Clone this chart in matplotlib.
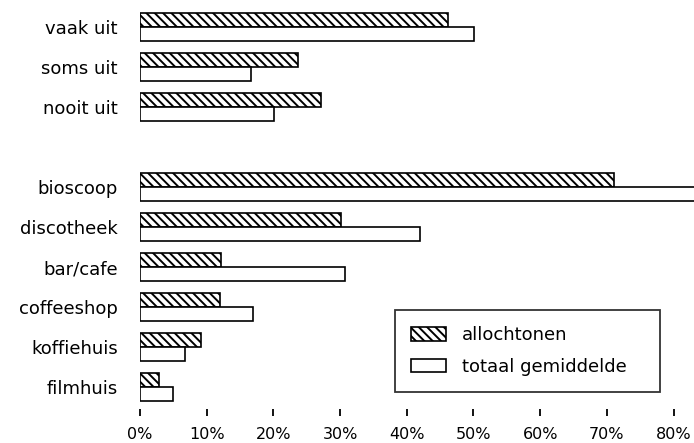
import matplotlib
matplotlib.use("Agg")
import matplotlib.pyplot as plt
import numpy as np

categories = ["vaak uit", "soms uit", "nooit uit", "", "bioscoop", "discotheek",
              "bar/cafe", "coffeeshop", "koffiehuis", "filmhuis"]
allochtonen = [46.2, 23.7, 27.1, None, 71.1, 30.1, 12.2, 12.0, 9.1, 2.9]
totaal = [50.1, 16.6, 20.1, None, 85.0, 42.0, 30.7, 17.0, 6.7, 4.9]
xticks = [0, 10, 20, 30, 40, 50, 60, 70, 80]
xticklabels = ["0%", "10%", "20%", "30%", "40%", "50%", "60%", "70%", "80%"]
series_names = ["allochtonen", "totaal gemiddelde"]

plt.rcParams['font.family'] = ['DejaVu Sans']
plt.rcParams['hatch.linewidth'] = 1.4

W, H = 694, 443
fig = plt.figure(figsize=(W / 100, H / 100), dpi=100)
ax = fig.add_axes([140 / W, (H - 409) / H, 1 - 140 / W, 409 / H])

pos = np.arange(len(categories))
mask = [v is not None for v in allochtonen]
y_idx = pos[mask]
a_vals = [v for v in allochtonen if v is not None]
t_vals = [v for v in totaal if v is not None]
h = 0.35
ax.barh(y_idx - h / 2, a_vals, height=h, facecolor='white', edgecolor='black',
        linewidth=1.2, hatch='\\\\\\\\', label=series_names[0])
ax.barh(y_idx + h / 2, t_vals, height=h, facecolor='white', edgecolor='black',
        linewidth=1.2, label=series_names[1])

ax.set_xlim(0, (W - 140) / 6.67)
ax.set_ylim(9.55, -0.675)
for s in ax.spines.values():
    s.set_visible(False)
ax.set_yticks(y_idx)
ax.set_yticklabels([c for c, m in zip(categories, mask) if m], fontsize=13)
ax.tick_params(axis='y', length=0, pad=16)
ax.set_xticks(xticks)
ax.set_xticklabels(xticklabels, fontsize=11.5)
ax.tick_params(axis='x', length=5, width=1.3, pad=8, direction='out')

aw = W - 140
leg = ax.legend(loc='lower left',
                bbox_to_anchor=((395 - 140) / aw, (409 - 392) / 409, (660 - 395) / aw, 82 / 409),
                mode='expand',
                frameon=True, fancybox=False, edgecolor='black', fontsize=13,
                handlelength=1.9, handleheight=0.8, borderpad=0.9, labelspacing=0.75,
                handletextpad=0.9, borderaxespad=0)
leg.get_frame().set_linewidth(1.3)

fig.savefig("out.png", dpi=100)
